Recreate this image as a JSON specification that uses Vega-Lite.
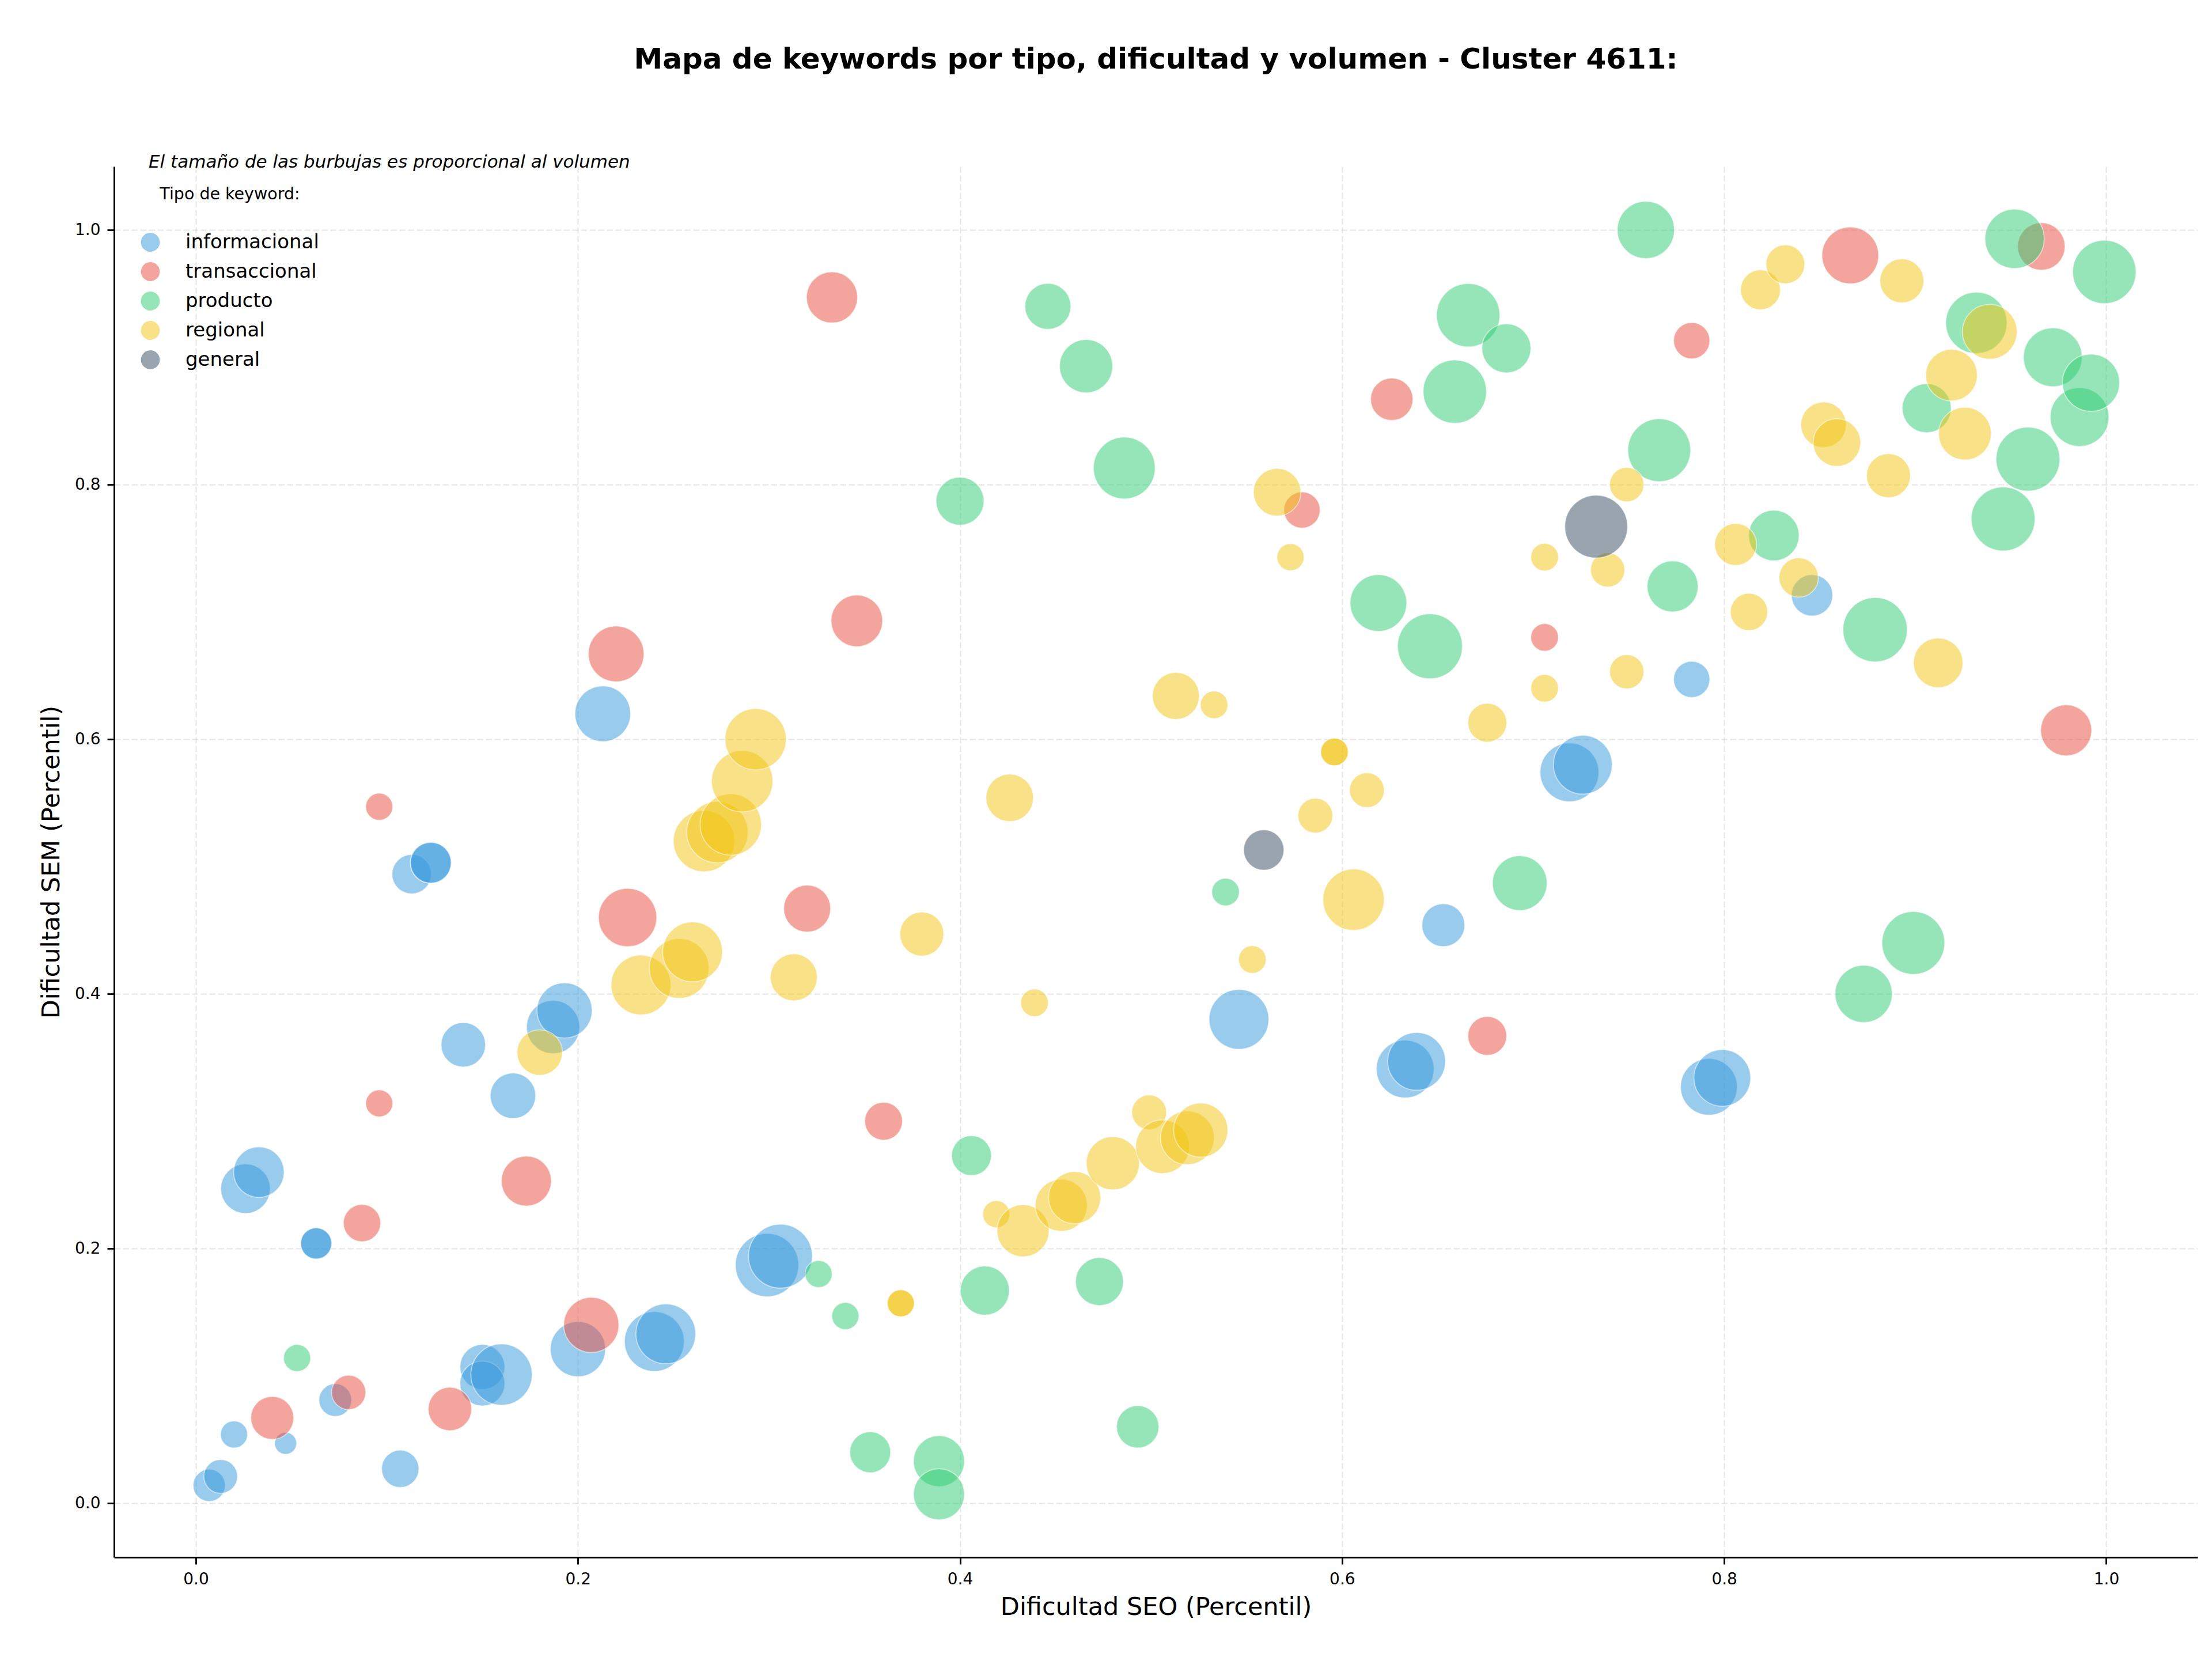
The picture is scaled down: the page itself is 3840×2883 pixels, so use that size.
{
  "$schema": "https://vega.github.io/schema/vega-lite/v6.json",
  "width": 3617,
  "height": 2414,
  "autosize": {"type": "none"},
  "padding": {"left": 198, "top": 289, "right": 25, "bottom": 180},
  "background": "white",
  "config": {
    "font": "DejaVu Sans",
    "view": {"stroke": null},
    "axis": {
      "labelFontSize": 28,
      "labelColor": "black",
      "labelPadding": 12,
      "tickSize": 12,
      "tickWidth": 2.8,
      "tickColor": "black",
      "domainColor": "black",
      "domainWidth": 2.8,
      "titleFontSize": 43,
      "titleFontWeight": "normal",
      "titleColor": "black",
      "grid": true,
      "gridColor": "#b0b0b0",
      "gridOpacity": 0.32,
      "gridWidth": 2,
      "gridDash": [10.5, 4.5]
    },
    "legend": {
      "orient": "none",
      "legendX": 46,
      "legendY": 34,
      "padding": 0,
      "titleFontSize": 28.5,
      "titleFontWeight": "normal",
      "titleColor": "black",
      "titleAnchor": "middle",
      "titlePadding": 52,
      "titleLimit": 0,
      "labelLimit": 0,
      "labelFontSize": 34,
      "labelColor": "black",
      "labelOffset": 44,
      "symbolSize": 1075,
      "symbolType": "circle",
      "symbolOpacity": 0.5,
      "symbolStrokeWidth": 0,
      "rowPadding": 17
    }
  },
  "title": {
    "text": "Mapa de keywords por tipo, dificultad y volumen - Cluster 4611:",
    "fontSize": 50,
    "fontWeight": "bold",
    "color": "black",
    "anchor": "middle",
    "frame": "group",
    "baseline": "alphabetic",
    "offset": 97
  },
  "layer": [
    {
      "data": {
        "values": [
          {"seo": 0.007, "sem": 0.014, "tipo": "informacional", "volumen": 3970},
          {"seo": 0.013, "sem": 0.021, "tipo": "informacional", "volumen": 4360},
          {"seo": 0.020, "sem": 0.054, "tipo": "informacional", "volumen": 2810},
          {"seo": 0.047, "sem": 0.047, "tipo": "informacional", "volumen": 1850},
          {"seo": 0.073, "sem": 0.081, "tipo": "informacional", "volumen": 4100},
          {"seo": 0.107, "sem": 0.027, "tipo": "informacional", "volumen": 5330},
          {"seo": 0.150, "sem": 0.107, "tipo": "informacional", "volumen": 7740},
          {"seo": 0.150, "sem": 0.094, "tipo": "informacional", "volumen": 7740},
          {"seo": 0.160, "sem": 0.101, "tipo": "informacional", "volumen": 14400},
          {"seo": 0.200, "sem": 0.121, "tipo": "informacional", "volumen": 11660},
          {"seo": 0.240, "sem": 0.127, "tipo": "informacional", "volumen": 13690},
          {"seo": 0.246, "sem": 0.133, "tipo": "informacional", "volumen": 13690},
          {"seo": 0.299, "sem": 0.187, "tipo": "informacional", "volumen": 15380},
          {"seo": 0.306, "sem": 0.194, "tipo": "informacional", "volumen": 15630},
          {"seo": 0.026, "sem": 0.247, "tipo": "informacional", "volumen": 9410},
          {"seo": 0.033, "sem": 0.260, "tipo": "informacional", "volumen": 9800},
          {"seo": 0.063, "sem": 0.204, "tipo": "informacional", "volumen": 3720},
          {"seo": 0.063, "sem": 0.204, "tipo": "informacional", "volumen": 3720},
          {"seo": 0.166, "sem": 0.320, "tipo": "informacional", "volumen": 7920},
          {"seo": 0.140, "sem": 0.360, "tipo": "informacional", "volumen": 7570},
          {"seo": 0.187, "sem": 0.374, "tipo": "informacional", "volumen": 10820},
          {"seo": 0.193, "sem": 0.387, "tipo": "informacional", "volumen": 11660},
          {"seo": 0.113, "sem": 0.494, "tipo": "informacional", "volumen": 5930},
          {"seo": 0.123, "sem": 0.503, "tipo": "informacional", "volumen": 6400},
          {"seo": 0.123, "sem": 0.503, "tipo": "informacional", "volumen": 6400},
          {"seo": 0.213, "sem": 0.620, "tipo": "informacional", "volumen": 11880},
          {"seo": 0.546, "sem": 0.380, "tipo": "informacional", "volumen": 13690},
          {"seo": 0.633, "sem": 0.341, "tipo": "informacional", "volumen": 12770},
          {"seo": 0.639, "sem": 0.347, "tipo": "informacional", "volumen": 12770},
          {"seo": 0.653, "sem": 0.454, "tipo": "informacional", "volumen": 7060},
          {"seo": 0.719, "sem": 0.574, "tipo": "informacional", "volumen": 13230},
          {"seo": 0.726, "sem": 0.580, "tipo": "informacional", "volumen": 13230},
          {"seo": 0.783, "sem": 0.647, "tipo": "informacional", "volumen": 5040},
          {"seo": 0.846, "sem": 0.713, "tipo": "informacional", "volumen": 6560},
          {"seo": 0.792, "sem": 0.327, "tipo": "informacional", "volumen": 12320},
          {"seo": 0.799, "sem": 0.334, "tipo": "informacional", "volumen": 12320},

          {"seo": 0.040, "sem": 0.067, "tipo": "transaccional", "volumen": 7060},
          {"seo": 0.080, "sem": 0.087, "tipo": "transaccional", "volumen": 4490},
          {"seo": 0.133, "sem": 0.074, "tipo": "transaccional", "volumen": 7230},
          {"seo": 0.207, "sem": 0.140, "tipo": "transaccional", "volumen": 11660},
          {"seo": 0.087, "sem": 0.220, "tipo": "transaccional", "volumen": 5330},
          {"seo": 0.096, "sem": 0.314, "tipo": "transaccional", "volumen": 2810},
          {"seo": 0.173, "sem": 0.253, "tipo": "transaccional", "volumen": 9600},
          {"seo": 0.096, "sem": 0.547, "tipo": "transaccional", "volumen": 2810},
          {"seo": 0.220, "sem": 0.667, "tipo": "transaccional", "volumen": 11880},
          {"seo": 0.226, "sem": 0.460, "tipo": "transaccional", "volumen": 13000},
          {"seo": 0.320, "sem": 0.467, "tipo": "transaccional", "volumen": 8460},
          {"seo": 0.333, "sem": 0.947, "tipo": "transaccional", "volumen": 10000},
          {"seo": 0.346, "sem": 0.693, "tipo": "transaccional", "volumen": 10200},
          {"seo": 0.360, "sem": 0.300, "tipo": "transaccional", "volumen": 5480},
          {"seo": 0.579, "sem": 0.780, "tipo": "transaccional", "volumen": 5040},
          {"seo": 0.626, "sem": 0.867, "tipo": "transaccional", "volumen": 6890},
          {"seo": 0.676, "sem": 0.367, "tipo": "transaccional", "volumen": 5780},
          {"seo": 0.706, "sem": 0.680, "tipo": "transaccional", "volumen": 2920},
          {"seo": 0.783, "sem": 0.913, "tipo": "transaccional", "volumen": 5040},
          {"seo": 0.866, "sem": 0.980, "tipo": "transaccional", "volumen": 12320},
          {"seo": 0.966, "sem": 0.987, "tipo": "transaccional", "volumen": 8650},
          {"seo": 0.979, "sem": 0.607, "tipo": "transaccional", "volumen": 10000},

          {"seo": 0.053, "sem": 0.114, "tipo": "producto", "volumen": 2810},
          {"seo": 0.326, "sem": 0.180, "tipo": "producto", "volumen": 2810},
          {"seo": 0.340, "sem": 0.147, "tipo": "producto", "volumen": 2810},
          {"seo": 0.353, "sem": 0.040, "tipo": "producto", "volumen": 6400},
          {"seo": 0.389, "sem": 0.033, "tipo": "producto", "volumen": 10000},
          {"seo": 0.389, "sem": 0.007, "tipo": "producto", "volumen": 10000},
          {"seo": 0.413, "sem": 0.167, "tipo": "producto", "volumen": 9220},
          {"seo": 0.406, "sem": 0.273, "tipo": "producto", "volumen": 6080},
          {"seo": 0.473, "sem": 0.174, "tipo": "producto", "volumen": 8840},
          {"seo": 0.493, "sem": 0.060, "tipo": "producto", "volumen": 6890},
          {"seo": 0.400, "sem": 0.787, "tipo": "producto", "volumen": 8840},
          {"seo": 0.446, "sem": 0.940, "tipo": "producto", "volumen": 8100},
          {"seo": 0.466, "sem": 0.893, "tipo": "producto", "volumen": 10820},
          {"seo": 0.486, "sem": 0.813, "tipo": "producto", "volumen": 14640},
          {"seo": 0.539, "sem": 0.480, "tipo": "producto", "volumen": 2920},
          {"seo": 0.619, "sem": 0.707, "tipo": "producto", "volumen": 12320},
          {"seo": 0.646, "sem": 0.673, "tipo": "producto", "volumen": 16130},
          {"seo": 0.659, "sem": 0.873, "tipo": "producto", "volumen": 15380},
          {"seo": 0.666, "sem": 0.933, "tipo": "producto", "volumen": 15380},
          {"seo": 0.686, "sem": 0.907, "tipo": "producto", "volumen": 9220},
          {"seo": 0.693, "sem": 0.487, "tipo": "producto", "volumen": 11450},
          {"seo": 0.759, "sem": 1.000, "tipo": "producto", "volumen": 12540},
          {"seo": 0.766, "sem": 0.827, "tipo": "producto", "volumen": 15130},
          {"seo": 0.773, "sem": 0.720, "tipo": "producto", "volumen": 10000},
          {"seo": 0.826, "sem": 0.760, "tipo": "producto", "volumen": 9800},
          {"seo": 0.879, "sem": 0.686, "tipo": "producto", "volumen": 15880},
          {"seo": 0.873, "sem": 0.400, "tipo": "producto", "volumen": 12540},
          {"seo": 0.899, "sem": 0.440, "tipo": "producto", "volumen": 15130},
          {"seo": 0.906, "sem": 0.860, "tipo": "producto", "volumen": 9220},
          {"seo": 0.932, "sem": 0.927, "tipo": "producto", "volumen": 14400},
          {"seo": 0.946, "sem": 0.773, "tipo": "producto", "volumen": 15630},
          {"seo": 0.952, "sem": 0.993, "tipo": "producto", "volumen": 13460},
          {"seo": 0.959, "sem": 0.820, "tipo": "producto", "volumen": 15630},
          {"seo": 0.972, "sem": 0.900, "tipo": "producto", "volumen": 13230},
          {"seo": 0.986, "sem": 0.853, "tipo": "producto", "volumen": 13230},
          {"seo": 0.992, "sem": 0.880, "tipo": "producto", "volumen": 12540},
          {"seo": 0.999, "sem": 0.967, "tipo": "producto", "volumen": 15380},

          {"seo": 0.180, "sem": 0.354, "tipo": "regional", "volumen": 7920},
          {"seo": 0.233, "sem": 0.407, "tipo": "regional", "volumen": 13690},
          {"seo": 0.253, "sem": 0.420, "tipo": "regional", "volumen": 13690},
          {"seo": 0.260, "sem": 0.433, "tipo": "regional", "volumen": 13690},
          {"seo": 0.266, "sem": 0.520, "tipo": "regional", "volumen": 14400},
          {"seo": 0.273, "sem": 0.527, "tipo": "regional", "volumen": 14400},
          {"seo": 0.280, "sem": 0.533, "tipo": "regional", "volumen": 14400},
          {"seo": 0.286, "sem": 0.567, "tipo": "regional", "volumen": 14400},
          {"seo": 0.293, "sem": 0.600, "tipo": "regional", "volumen": 14400},
          {"seo": 0.313, "sem": 0.413, "tipo": "regional", "volumen": 8460},
          {"seo": 0.369, "sem": 0.157, "tipo": "regional", "volumen": 2810},
          {"seo": 0.369, "sem": 0.157, "tipo": "regional", "volumen": 2810},
          {"seo": 0.380, "sem": 0.447, "tipo": "regional", "volumen": 7400},
          {"seo": 0.419, "sem": 0.227, "tipo": "regional", "volumen": 2810},
          {"seo": 0.433, "sem": 0.214, "tipo": "regional", "volumen": 10400},
          {"seo": 0.439, "sem": 0.393, "tipo": "regional", "volumen": 2920},
          {"seo": 0.426, "sem": 0.554, "tipo": "regional", "volumen": 8650},
          {"seo": 0.453, "sem": 0.234, "tipo": "regional", "volumen": 10400},
          {"seo": 0.460, "sem": 0.240, "tipo": "regional", "volumen": 10400},
          {"seo": 0.480, "sem": 0.267, "tipo": "regional", "volumen": 10820},
          {"seo": 0.499, "sem": 0.307, "tipo": "regional", "volumen": 4620},
          {"seo": 0.506, "sem": 0.280, "tipo": "regional", "volumen": 11030},
          {"seo": 0.519, "sem": 0.287, "tipo": "regional", "volumen": 11030},
          {"seo": 0.526, "sem": 0.293, "tipo": "regional", "volumen": 11240},
          {"seo": 0.513, "sem": 0.634, "tipo": "regional", "volumen": 8460},
          {"seo": 0.533, "sem": 0.627, "tipo": "regional", "volumen": 2920},
          {"seo": 0.553, "sem": 0.427, "tipo": "regional", "volumen": 2920},
          {"seo": 0.566, "sem": 0.794, "tipo": "regional", "volumen": 8650},
          {"seo": 0.573, "sem": 0.743, "tipo": "regional", "volumen": 2810},
          {"seo": 0.586, "sem": 0.540, "tipo": "regional", "volumen": 4620},
          {"seo": 0.596, "sem": 0.590, "tipo": "regional", "volumen": 2920},
          {"seo": 0.596, "sem": 0.590, "tipo": "regional", "volumen": 2920},
          {"seo": 0.606, "sem": 0.474, "tipo": "regional", "volumen": 14400},
          {"seo": 0.613, "sem": 0.560, "tipo": "regional", "volumen": 4620},
          {"seo": 0.676, "sem": 0.613, "tipo": "regional", "volumen": 5780},
          {"seo": 0.706, "sem": 0.640, "tipo": "regional", "volumen": 2920},
          {"seo": 0.706, "sem": 0.743, "tipo": "regional", "volumen": 2920},
          {"seo": 0.739, "sem": 0.733, "tipo": "regional", "volumen": 4490},
          {"seo": 0.749, "sem": 0.800, "tipo": "regional", "volumen": 4490},
          {"seo": 0.749, "sem": 0.653, "tipo": "regional", "volumen": 4490},
          {"seo": 0.806, "sem": 0.753, "tipo": "regional", "volumen": 6720},
          {"seo": 0.813, "sem": 0.700, "tipo": "regional", "volumen": 5330},
          {"seo": 0.819, "sem": 0.953, "tipo": "regional", "volumen": 6080},
          {"seo": 0.832, "sem": 0.973, "tipo": "regional", "volumen": 5780},
          {"seo": 0.839, "sem": 0.727, "tipo": "regional", "volumen": 5930},
          {"seo": 0.852, "sem": 0.847, "tipo": "regional", "volumen": 7920},
          {"seo": 0.859, "sem": 0.833, "tipo": "regional", "volumen": 8650},
          {"seo": 0.886, "sem": 0.807, "tipo": "regional", "volumen": 7400},
          {"seo": 0.893, "sem": 0.960, "tipo": "regional", "volumen": 7400},
          {"seo": 0.912, "sem": 0.660, "tipo": "regional", "volumen": 9410},
          {"seo": 0.919, "sem": 0.886, "tipo": "regional", "volumen": 10200},
          {"seo": 0.926, "sem": 0.840, "tipo": "regional", "volumen": 10610},
          {"seo": 0.939, "sem": 0.920, "tipo": "regional", "volumen": 11450},

          {"seo": 0.559, "sem": 0.513, "tipo": "general", "volumen": 6240},
          {"seo": 0.733, "sem": 0.767, "tipo": "general", "volumen": 15130}
        ]
      },
      "mark": {
        "type": "circle",
        "fillOpacity": 0.5,
        "stroke": "white",
        "strokeWidth": 1.8,
        "strokeOpacity": 0.5
      },
      "encoding": {
        "x": {
          "field": "seo",
          "type": "quantitative",
          "scale": {"domain": [-0.0428, 1.0478], "nice": false, "zero": false},
          "axis": {"values": [0, 0.2, 0.4, 0.6, 0.8, 1.0], "format": ".1f", "title": "Dificultad SEO (Percentil)", "titlePadding": 13}
        },
        "y": {
          "field": "sem",
          "type": "quantitative",
          "scale": {"domain": [-0.0425, 1.0498], "nice": false, "zero": false},
          "axis": {"values": [0, 0.2, 0.4, 0.6, 0.8, 1.0], "format": ".1f", "title": "Dificultad SEM (Percentil)", "titlePadding": 18}
        },
        "color": {
          "field": "tipo",
          "type": "nominal",
          "sort": null,
          "scale": {
            "domain": ["informacional", "transaccional", "producto", "regional", "general"],
            "range": ["#3498db", "#e74c3c", "#2ecc71", "#f1c40f", "#34495e"]
          },
          "legend": {"title": "Tipo de keyword:"}
        },
        "size": {
          "field": "volumen",
          "type": "quantitative",
          "scale": {"type": "linear", "domain": [0, 16000], "range": [0, 12566], "zero": true, "nice": false},
          "legend": null
        }
      }
    },
    {
      "data": {"values": [{"nota": "El tamaño de las burbujas es proporcional al volumen"}]},
      "mark": {"type": "text", "align": "left", "baseline": "alphabetic", "fontSize": 31, "fontStyle": "italic", "color": "black"},
      "encoding": {
        "x": {"datum": -0.0247, "type": "quantitative"},
        "y": {"datum": 1.0489, "type": "quantitative"},
        "text": {"field": "nota", "type": "nominal"}
      }
    }
  ]
}
